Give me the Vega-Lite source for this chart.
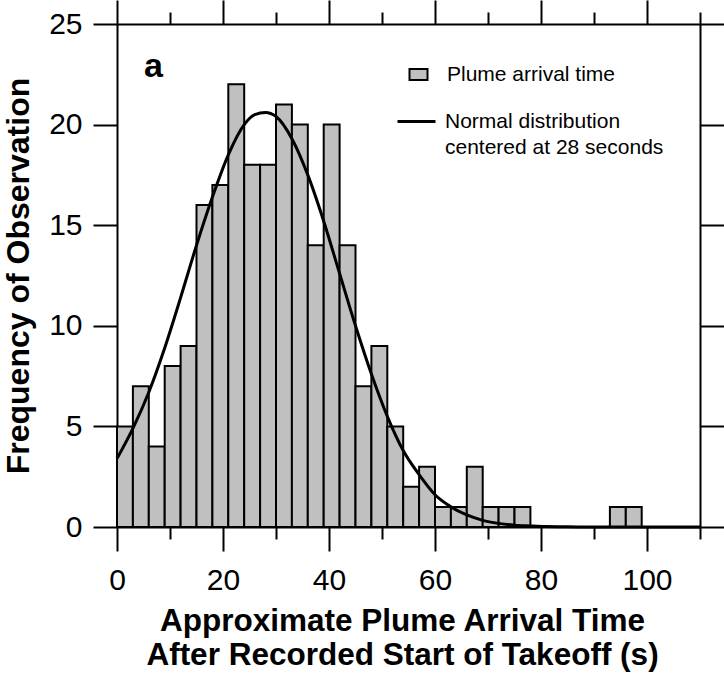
{
  "$schema": "https://vega.github.io/schema/vega-lite/v6.json",
  "width": 583,
  "height": 503,
  "autosize": {"type": "none"},
  "padding": {"left": 117, "top": 24, "right": 24, "bottom": 150},
  "background": "white",
  "config": {
    "view": {"stroke": null},
    "font": "Liberation Sans",
    "style": {"guide-label": {"lineHeight": 26}},
    "axis": {
      "grid": false,
      "domainColor": "black",
      "domainWidth": 2,
      "tickColor": "black",
      "tickWidth": 2,
      "labelColor": "black",
      "titleColor": "black",
      "labelFont": "Liberation Sans",
      "titleFont": "Liberation Sans"
    },
    "legend": {
      "orient": "none",
      "labelFont": "Liberation Sans",
      "labelFontSize": 21,
      "labelColor": "black",
      "labelLimit": 0
    }
  },
  "title": {
    "text": "a",
    "anchor": "start",
    "frame": "group",
    "orient": "top",
    "fontSize": 34,
    "fontWeight": "bold",
    "font": "Liberation Sans",
    "color": "black",
    "baseline": "alphabetic",
    "offset": -112,
    "dx": 27
  },
  "layer": [
    {
      "data": {
        "values": [
          {"start": 0, "end": 3, "count": 5},
          {"start": 3, "end": 6, "count": 7},
          {"start": 6, "end": 9, "count": 4},
          {"start": 9, "end": 12, "count": 8},
          {"start": 12, "end": 15, "count": 9},
          {"start": 15, "end": 18, "count": 16},
          {"start": 18, "end": 21, "count": 17},
          {"start": 21, "end": 24, "count": 22},
          {"start": 24, "end": 27, "count": 18},
          {"start": 27, "end": 30, "count": 18},
          {"start": 30, "end": 33, "count": 21},
          {"start": 33, "end": 36, "count": 20},
          {"start": 36, "end": 39, "count": 14},
          {"start": 39, "end": 42, "count": 20},
          {"start": 42, "end": 45, "count": 14},
          {"start": 45, "end": 48, "count": 7},
          {"start": 48, "end": 51, "count": 9},
          {"start": 51, "end": 54, "count": 5},
          {"start": 54, "end": 57, "count": 2},
          {"start": 57, "end": 60, "count": 3},
          {"start": 60, "end": 63, "count": 1},
          {"start": 63, "end": 66, "count": 1},
          {"start": 66, "end": 69, "count": 3},
          {"start": 69, "end": 72, "count": 1},
          {"start": 72, "end": 75, "count": 1},
          {"start": 75, "end": 78, "count": 1},
          {"start": 78, "end": 81, "count": 0},
          {"start": 81, "end": 84, "count": 0},
          {"start": 84, "end": 87, "count": 0},
          {"start": 87, "end": 90, "count": 0},
          {"start": 90, "end": 93, "count": 0},
          {"start": 93, "end": 96, "count": 1},
          {"start": 96, "end": 99, "count": 1}
        ]
      },
      "mark": {"type": "bar", "stroke": "black", "strokeWidth": 2},
      "encoding": {
        "x": {
          "field": "start",
          "type": "quantitative",
          "scale": {"domain": [0, 110], "nice": false, "zero": false},
          "axis": {
            "orient": "bottom",
            "values": [0, 10, 20, 30, 40, 50, 60, 70, 80, 90, 100, 110],
            "tickSize": {"condition": {"test": "datum.value % 20 === 0", "value": 24}, "value": 12},
            "labelExpr": "datum.value % 20 === 0 ? datum.label : ''",
            "labelFontSize": 30,
            "labelPadding": 14,
            "labelFlush": false,
            "labelOverlap": false,
            "title": ["Approximate Plume Arrival Time", "After Recorded Start of Takeoff (s)"],
            "titleFontSize": 31.5,
            "titleFontWeight": "bold",
            "titleLineHeight": 34,
            "titlePadding": 10,
            "titleX": 285
          }
        },
        "x2": {"field": "end"},
        "y": {
          "field": "count",
          "type": "quantitative",
          "scale": {"domain": [0, 25], "nice": false},
          "axis": {
            "orient": "left",
            "values": [0, 5, 10, 15, 20, 25],
            "tickSize": 24,
            "labelFontSize": 30,
            "labelPadding": 11,
            "title": "Frequency of Observation",
            "titleFontSize": 32,
            "titleFontWeight": "bold",
            "titlePadding": 13
          }
        },
        "y2": {"datum": 0},
        "color": {
          "datum": "Plume arrival time",
          "type": "nominal",
          "scale": {"range": ["#c0c0c0"]},
          "legend": {
            "title": null,
            "orient": "none",
            "legendX": 291,
            "legendY": 40,
            "symbolType": "M-1,-0.6H1V0.6H-1Z",
            "symbolSize": 324,
            "symbolStrokeColor": "black",
            "symbolStrokeWidth": 2,
            "symbolFillColor": "#c0c0c0",
            "symbolOpacity": 1,
            "labelOffset": 18
          }
        }
      }
    },
    {
      "data": {
        "values": [
          {"t": 0, "freq": 3.4},
          {"t": 3, "freq": 4.9},
          {"t": 6, "freq": 6.7},
          {"t": 9, "freq": 8.9},
          {"t": 12, "freq": 11.4},
          {"t": 15, "freq": 14.0},
          {"t": 18, "freq": 16.4},
          {"t": 21, "freq": 18.5},
          {"t": 24, "freq": 20.0},
          {"t": 26, "freq": 20.5},
          {"t": 28, "freq": 20.6},
          {"t": 30, "freq": 20.4},
          {"t": 33, "freq": 19.3},
          {"t": 36, "freq": 17.5},
          {"t": 39, "freq": 15.2},
          {"t": 42, "freq": 12.6},
          {"t": 45, "freq": 10.0},
          {"t": 48, "freq": 7.6},
          {"t": 51, "freq": 5.5},
          {"t": 54, "freq": 3.8},
          {"t": 57, "freq": 2.6},
          {"t": 60, "freq": 1.6},
          {"t": 63, "freq": 1.0},
          {"t": 66, "freq": 0.6},
          {"t": 69, "freq": 0.33},
          {"t": 72, "freq": 0.18},
          {"t": 75, "freq": 0.09},
          {"t": 78, "freq": 0.05},
          {"t": 81, "freq": 0.02},
          {"t": 85, "freq": 0.01},
          {"t": 90, "freq": 0},
          {"t": 100, "freq": 0},
          {"t": 110, "freq": 0}
        ]
      },
      "mark": {"type": "line", "strokeWidth": 3, "interpolate": "monotone"},
      "encoding": {
        "x": {
          "field": "t",
          "type": "quantitative",
          "axis": {
            "orient": "top",
            "values": [0, 10, 20, 30, 40, 50, 60, 70, 80, 90, 100, 110],
            "tickSize": {"condition": {"test": "datum.value % 20 === 0", "value": 24}, "value": 12},
            "labels": false,
            "title": null
          }
        },
        "y": {
          "field": "freq",
          "type": "quantitative",
          "axis": {
            "orient": "right",
            "values": [0, 5, 10, 15, 20, 25],
            "tickSize": 24,
            "labels": false,
            "title": null
          }
        },
        "color": {
          "datum": "Normal distribution centered at 28 seconds",
          "type": "nominal",
          "scale": {"range": ["black"]},
          "legend": {
            "title": null,
            "orient": "none",
            "legendX": 279,
            "legendY": 77,
            "symbolType": "stroke",
            "symbolSize": 1444,
            "symbolStrokeWidth": 3,
            "symbolStrokeColor": "black",
            "symbolOpacity": 1,
            "labelOffset": 8,
            "labelExpr": "['Normal distribution', 'centered at 28 seconds']"
          }
        }
      }
    }
  ],
  "resolve": {
    "axis": {"x": "independent", "y": "independent"},
    "scale": {"color": "independent"},
    "legend": {"color": "independent"}
  }
}
